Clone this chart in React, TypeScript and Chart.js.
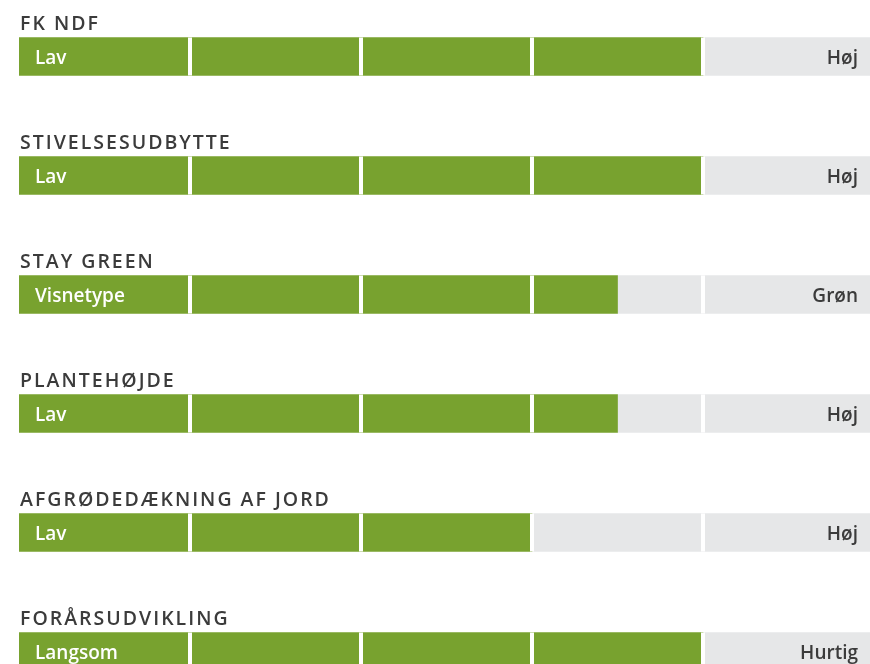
import React, { useEffect, useRef } from "react";
import { Chart, registerables } from "chart.js";

Chart.register(...registerables);

const categories = [
  "FK NDF",
  "STIVELSESUDBYTTE",
  "STAY GREEN",
  "PLANTEHØJDE",
  "AFGRØDEDÆKNING AF JORD",
  "FORÅRSUDVIKLING",
];
const scores = [4, 4, 3.5, 3.5, 3, 4];
const lowLabels = ["Lav", "Lav", "Visnetype", "Lav", "Lav", "Langsom"];
const highLabels = ["Høj", "Høj", "Grøn", "Høj", "Høj", "Hurtig"];
const maxScore = 5;
const segmentSteps = [1, 2, 3, 4];

const GREEN = "#78a22f";
const GRAY = "#e6e7e8";
const TEXT = "#3b3b3b";

export default function App() {
  const ref = useRef<HTMLCanvasElement>(null);

  useEffect(() => {
    if (!ref.current) return;
    const overlay = {
      id: "overlay",
      afterDatasetsDraw(chart: any) {
        const ctx = chart.ctx as CanvasRenderingContext2D;
        const xs = chart.scales.x;
        const meta = chart.getDatasetMeta(0);
        meta.data.forEach((bar: any, i: number) => {
          const { y, height } = bar.getProps(["y", "height"], true);
          const top = y - height / 2;
          ctx.save();
          ctx.fillStyle = "#ffffff";
          segmentSteps.forEach((k) => {
            const px = xs.getPixelForValue(k);
            ctx.fillRect(px - 2, top, 4, height);
          });
          // title
          (ctx as any).letterSpacing = "2px";
          ctx.font = "600 19.5px 'Open Sans'";
          ctx.fillStyle = TEXT;
          ctx.textAlign = "left";
          ctx.textBaseline = "alphabetic";
          ctx.fillText(categories[i], xs.left + 1, top - 8);
          // low label
          (ctx as any).letterSpacing = "0px";
          ctx.font = "600 19px 'Open Sans'";
          ctx.fillStyle = "#ffffff";
          ctx.fillText(lowLabels[i], xs.left + 16, y + 7);
          // high label
          ctx.textAlign = "right";
          ctx.fillStyle = TEXT;
          ctx.fillText(highLabels[i], xs.getPixelForValue(maxScore) - 16, y + 7);
          ctx.restore();
        });
      },
    };

    const chart = new Chart(ref.current, {
      type: "bar",
      data: {
        labels: categories,
        datasets: [
          {
            label: "Score",
            data: scores,
            backgroundColor: GREEN,
            barThickness: 38,
            stack: "s",
          },
          {
            label: "Rest",
            data: scores.map((s) => maxScore - s),
            backgroundColor: GRAY,
            barThickness: 38,
            stack: "s",
          },
        ],
      },
      options: {
        indexAxis: "y",
        responsive: false,
        animation: false,
        devicePixelRatio: 1,
        layout: { padding: { left: 19, right: 0, top: 0, bottom: 0 } },
        scales: {
          x: { stacked: true, min: 0, max: maxScore, display: false },
          y: { stacked: true, display: false },
        },
        plugins: {
          legend: { display: false },
          tooltip: { enabled: false },
        },
      },
      plugins: [overlay],
    });
    return () => chart.destroy();
  }, []);

  return (
    <div
      style={{
        position: "fixed",
        left: 0,
        top: 0,
        width: 870,
        height: 664,
        overflow: "hidden",
        background: "#ffffff",
      }}
    >
      <canvas
        ref={ref}
        width={874}
        height={714}
        style={{ position: "absolute", left: 0, top: -3, width: 874, height: 714 }}
      />
    </div>
  );
}
